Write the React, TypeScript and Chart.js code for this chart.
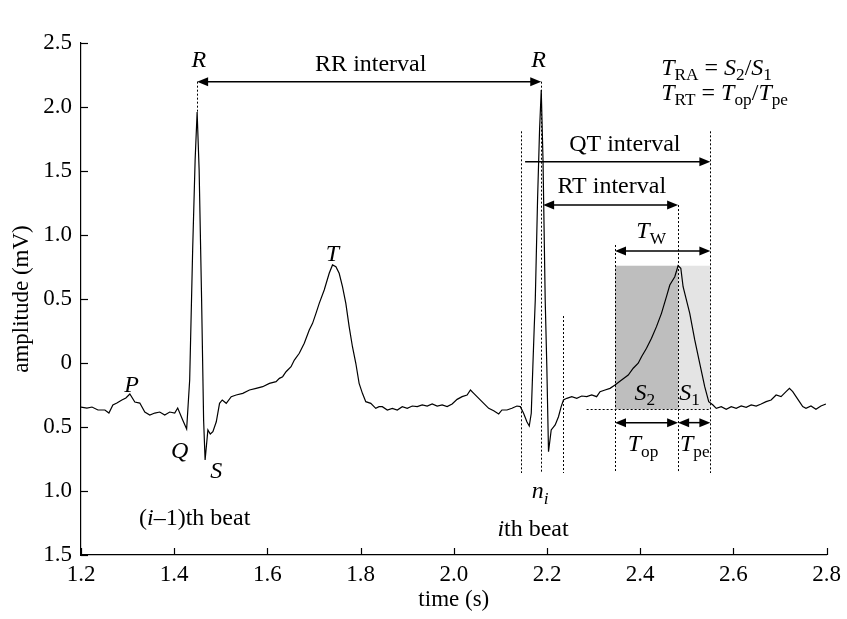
import React, { useEffect, useRef } from 'react';
import { Chart, registerables } from 'chart.js';

Chart.register(...registerables);

const SERIF = "'Liberation Serif', 'Times New Roman', serif";

// ECG trace: time (s) and amplitude (mV)
const timeS = [
  1.2, 1.2128, 1.2235, 1.2364, 1.2513, 1.2599, 1.2684, 1.277, 1.2877, 1.2963,
  1.3048, 1.3155, 1.3262, 1.3369, 1.3476, 1.3583, 1.369, 1.3797, 1.3904, 1.4011,
  1.4075, 1.4182, 1.4267, 1.4332, 1.4396, 1.4449, 1.4492, 1.4535, 1.4588, 1.4631,
  1.4663, 1.4723, 1.4774, 1.483, 1.4903, 1.4973, 1.5031, 1.5117, 1.5224, 1.533,
  1.5472, 1.5615, 1.5758, 1.5899, 1.6043, 1.6186, 1.6257, 1.6327, 1.64, 1.6507,
  1.6578, 1.6684, 1.6791, 1.6898, 1.6969, 1.7042, 1.7112, 1.7219, 1.7326, 1.7397,
  1.747, 1.754, 1.7611, 1.7683, 1.7754, 1.7825, 1.7897, 1.7968, 1.8039, 1.8111,
  1.8218, 1.8325, 1.8396, 1.8466, 1.8573, 1.868, 1.8787, 1.8894, 1.9001, 1.9108,
  1.9215, 1.9322, 1.9429, 1.9536, 1.9643, 1.975, 1.9857, 1.9964, 2.0071, 2.0178,
  2.0285, 2.0357, 2.0428, 2.0535, 2.0642, 2.0749, 2.0856, 2.0963, 2.1033, 2.114,
  2.1247, 2.1354, 2.1427, 2.1497, 2.1568, 2.1619, 2.1662, 2.1696, 2.1726, 2.1748,
  2.1797, 2.184, 2.1876, 2.1914, 2.1961, 2.1996, 2.2032, 2.209, 2.2175, 2.2246,
  2.2304, 2.2353, 2.2424, 2.2531, 2.2638, 2.2745, 2.2852, 2.2959, 2.3065, 2.3138,
  2.3245, 2.3352, 2.3459, 2.36, 2.3743, 2.385, 2.3957, 2.4028, 2.4135, 2.4242,
  2.4349, 2.4456, 2.4563, 2.4635, 2.4742, 2.4813, 2.4871, 2.492, 2.5063, 2.517,
  2.5277, 2.5384, 2.547, 2.5561, 2.5632, 2.5739, 2.5846, 2.5953, 2.606, 2.6167,
  2.6274, 2.6381, 2.6488, 2.6595, 2.6702, 2.6809, 2.6916, 2.7022, 2.7129, 2.7202,
  2.7273, 2.7344, 2.7416, 2.7487, 2.7557, 2.7664, 2.7771, 2.7878, 2.7985,
];
const amplitudeMV = [
  -0.344, -0.352, -0.344, -0.367, -0.367, -0.391, -0.328, -0.313, -0.289, -0.273,
  -0.242, -0.305, -0.313, -0.383, -0.406, -0.391, -0.383, -0.406, -0.383, -0.391,
  -0.352, -0.445, -0.516, -0.133, 0.883, 1.586, 1.961, 1.508, 0.492, -0.445,
  -0.758, -0.523, -0.555, -0.537, -0.459, -0.315, -0.289, -0.315, -0.263, -0.25,
  -0.237, -0.211, -0.198, -0.185, -0.159, -0.146, -0.12, -0.107, -0.068, -0.029,
  0.023, 0.076, 0.154, 0.258, 0.31, 0.388, 0.466, 0.57, 0.701, 0.766,
  0.752, 0.701, 0.596, 0.466, 0.284, 0.127, -0.002, -0.159, -0.237, -0.302,
  -0.315, -0.354, -0.341, -0.341, -0.367, -0.354, -0.367, -0.341, -0.354, -0.336,
  -0.341, -0.328, -0.336, -0.32, -0.336, -0.328, -0.341, -0.32, -0.284, -0.263,
  -0.25, -0.211, -0.237, -0.276, -0.315, -0.354, -0.373, -0.398, -0.367, -0.367,
  -0.354, -0.336, -0.341, -0.393, -0.459, -0.492, -0.393, -0.029, 0.284, 0.492,
  1.273, 1.82, 2.133, 1.586, 0.492, -0.029, -0.693, -0.523, -0.484, -0.42,
  -0.341, -0.289, -0.276, -0.263, -0.276, -0.258, -0.263, -0.25, -0.263, -0.224,
  -0.211, -0.198, -0.172, -0.133, -0.094, -0.041, -0.002, 0.049, 0.115, 0.193,
  0.284, 0.388, 0.518, 0.609, 0.674, 0.76, 0.74, 0.596, 0.388, 0.18,
  -0.002, -0.185, -0.302, -0.328, -0.354, -0.341, -0.362, -0.341, -0.354, -0.336,
  -0.346, -0.328, -0.336, -0.32, -0.302, -0.289, -0.25, -0.263, -0.224, -0.198,
  -0.224, -0.263, -0.302, -0.341, -0.354, -0.336, -0.362, -0.336, -0.32,
];

const xTickValues = [1.2, 1.4, 1.6, 1.8, 2.0, 2.2, 2.4, 2.6, 2.8];
const yTickValues = [-1.5, -1.0, -0.5, 0, 0.5, 1.0, 1.5, 2.0, 2.5];

// fiducial points of the beats (s / mV)
const rPeak1 = 1.4492;
const rPeak1Amp = 1.961;
const rPeak2 = 2.1876;
const qrsOnset2 = 2.144;
const qrsEnd2 = 2.2353;
const tOnset2 = 2.3459;
const tPeak2 = 2.4813;
const tEnd2 = 2.5505;
const tPeakAmp = 0.76;
const isoLevel = -0.362;

// annotation levels (mV)
const rrLevel = 2.198;
const qtLevel = 1.573;
const rtLevel = 1.234;
const twLevel = 0.875;
const tsubLevel = -0.466;
const markerTop = 1.81;
const markerBottom = -0.859;

const SHADE_DARK = '#bebebe';
const SHADE_LIGHT = '#e4e4e4';

type Seg = [string, 'i' | 'r' | 'sr' | 'si'];

function rich(ctx: CanvasRenderingContext2D, segs: Seg[], x: number, y: number, align: 'left' | 'center', size = 24) {
  const sub = size * 0.72;
  const font = (k: string) =>
    k === 'i' ? `italic ${size}px ${SERIF}` : k === 'r' ? `${size}px ${SERIF}` : k === 'si' ? `italic ${sub}px ${SERIF}` : `${sub}px ${SERIF}`;
  let w = 0;
  for (const [t, k] of segs) {
    ctx.font = font(k);
    w += ctx.measureText(t).width;
  }
  let cx = align === 'center' ? x - w / 2 : x;
  ctx.textAlign = 'left';
  ctx.textBaseline = 'alphabetic';
  const base = y + size * 0.33;
  for (const [t, k] of segs) {
    ctx.font = font(k);
    ctx.fillText(t, cx, k === 'sr' || k === 'si' ? base + size * 0.24 : base);
    cx += ctx.measureText(t).width;
  }
}

function hArrow(ctx: CanvasRenderingContext2D, x1: number, x2: number, y: number, headL: boolean, headR: boolean) {
  const hl = 11;
  const hw = 4.5;
  ctx.setLineDash([]);
  ctx.lineWidth = 1.5;
  ctx.beginPath();
  ctx.moveTo(x1 + (headL ? hl - 2 : 0), y);
  ctx.lineTo(x2 - (headR ? hl - 2 : 0), y);
  ctx.stroke();
  if (headL) {
    ctx.beginPath();
    ctx.moveTo(x1, y);
    ctx.lineTo(x1 + hl, y - hw);
    ctx.lineTo(x1 + hl, y + hw);
    ctx.closePath();
    ctx.fill();
  }
  if (headR) {
    ctx.beginPath();
    ctx.moveTo(x2, y);
    ctx.lineTo(x2 - hl, y - hw);
    ctx.lineTo(x2 - hl, y + hw);
    ctx.closePath();
    ctx.fill();
  }
}

const annotationPlugin = {
  id: 'ecgAnnotations',
  beforeDatasetsDraw(chart: any) {
    const { ctx, scales } = chart;
    const X = (v: number) => scales.x.getPixelForValue(v);
    const Y = (v: number) => scales.y.getPixelForValue(v);
    ctx.save();
    ctx.fillStyle = SHADE_DARK;
    ctx.fillRect(X(tOnset2), Y(tPeakAmp), X(tPeak2) - X(tOnset2), Y(isoLevel) - Y(tPeakAmp));
    ctx.fillStyle = SHADE_LIGHT;
    ctx.fillRect(X(tPeak2), Y(tPeakAmp), X(tEnd2) - X(tPeak2), Y(isoLevel) - Y(tPeakAmp));
    ctx.restore();
  },
  afterDatasetsDraw(chart: any) {
    const { ctx, scales } = chart;
    const X = (v: number) => scales.x.getPixelForValue(v);
    const Y = (v: number) => scales.y.getPixelForValue(v);
    ctx.save();
    ctx.strokeStyle = '#000';
    ctx.fillStyle = '#000';
    // dotted markers
    ctx.lineWidth = 1;
    ctx.setLineDash([2, 2]);
    const vline = (t: number, a: number, b: number) => {
      const px = Math.round(X(t)) + 0.5;
      ctx.beginPath();
      ctx.moveTo(px, Y(a));
      ctx.lineTo(px, Y(b));
      ctx.stroke();
    };
    vline(rPeak1, rrLevel, rPeak1Amp);
    vline(rPeak2, rrLevel, markerBottom);
    vline(qrsOnset2, markerTop, markerBottom);
    vline(qrsEnd2, 0.367, markerBottom);
    vline(tOnset2, 0.922, markerBottom);
    vline(tPeak2, rtLevel, markerBottom);
    vline(tEnd2, markerTop, markerBottom);
    ctx.beginPath();
    const iy = Math.round(Y(isoLevel)) + 0.5;
    ctx.moveTo(X(2.285), iy);
    ctx.lineTo(X(tEnd2), iy);
    ctx.stroke();

    // arrows
    hArrow(ctx, X(rPeak1), X(rPeak2), Y(rrLevel), true, true);
    hArrow(ctx, X(qrsOnset2 + 0.009), X(tEnd2), Y(qtLevel), false, true);
    hArrow(ctx, X(rPeak2 + 0.004), X(tPeak2), Y(rtLevel), true, true);
    hArrow(ctx, X(tOnset2), X(tEnd2), Y(twLevel), true, true);
    hArrow(ctx, X(tOnset2), X(tPeak2), Y(tsubLevel), true, true);
    hArrow(ctx, X(tPeak2), X(tEnd2), Y(tsubLevel), true, true);

    // texts
    const L = (segs: Seg[], t: number, v: number, align: 'left' | 'center' = 'center') => rich(ctx, segs, X(t), Y(v), align);
    L([['R', 'i']], 1.4531, 2.373);
    L([['R', 'i']], 2.1818, 2.373);
    L([['RR interval', 'r']], 1.8218, 2.341);
    L([['T', 'i'], ['RA', 'sr'], [' = ', 'r'], ['S', 'i'], ['2', 'sr'], ['/', 'r'], ['S', 'i'], ['1', 'sr']], 2.445, 2.315, 'left');
    L([['T', 'i'], ['RT', 'sr'], [' = ', 'r'], ['T', 'i'], ['op', 'sr'], ['/', 'r'], ['T', 'i'], ['pe', 'sr']], 2.445, 2.12, 'left');
    L([['QT interval', 'r']], 2.367, 1.719);
    L([['RT interval', 'r']], 2.339, 1.39);
    L([['T', 'i'], ['W', 'sr']], 2.4235, 1.039);
    L([['S', 'i'], ['2', 'sr']], 2.41, -0.224);
    L([['S', 'i'], ['1', 'sr']], 2.506, -0.224);
    L([['T', 'i'], ['op', 'sr']], 2.406, -0.625);
    L([['T', 'i'], ['pe', 'sr']], 2.517, -0.625);
    L([['n', 'i'], ['i', 'si']], 2.185, -0.992);
    L([['i', 'i'], ['th beat', 'r']], 2.17, -1.289);
    L([['(', 'r'], ['i', 'i'], ['–1)th beat', 'r']], 1.4439, -1.203);
    L([['P', 'i']], 1.3084, -0.164);
    L([['Q', 'i']], 1.4118, -0.68);
    L([['S', 'i']], 1.4903, -0.836);
    L([['T', 'i']], 1.7397, 0.862);
    ctx.restore();
  },
  afterDraw(chart: any) {
    const { ctx, scales, chartArea } = chart;
    ctx.save();
    ctx.strokeStyle = '#000';
    ctx.lineWidth = 1.2;
    ctx.setLineDash([]);
    for (const v of xTickValues) {
      const px = Math.round(scales.x.getPixelForValue(v)) + 0.5;
      ctx.beginPath();
      ctx.moveTo(px, chartArea.bottom);
      ctx.lineTo(px, chartArea.bottom - 7);
      ctx.stroke();
    }
    for (const v of yTickValues) {
      const py = Math.round(scales.y.getPixelForValue(v)) + 0.5;
      ctx.beginPath();
      ctx.moveTo(chartArea.left, py);
      ctx.lineTo(chartArea.left + 7, py);
      ctx.stroke();
    }
    ctx.restore();
  },
};

export default function App() {
  const ref = useRef<HTMLCanvasElement>(null);
  useEffect(() => {
    if (!ref.current) return;
    const chart = new Chart(ref.current, {
      type: 'line',
      data: {
        datasets: [
          {
            data: timeS.map((t, i) => ({ x: t, y: amplitudeMV[i] })),
            borderColor: '#000',
            borderWidth: 1.2,
            pointRadius: 0,
            tension: 0,
            fill: false,
          },
        ],
      },
      options: {
        responsive: false,
        animation: false,
        events: [],
        layout: { padding: { left: 0, top: 43, right: 18, bottom: 0 } },
        plugins: { legend: { display: false }, tooltip: { enabled: false } },
        scales: {
          x: {
            type: 'linear',
            min: 1.2,
            max: 2.8,
            afterBuildTicks: (s: any) => {
              s.ticks = xTickValues.map((v) => ({ value: v }));
            },
            afterFit: (s: any) => {
              s.height = 64;
            },
            grid: { display: false, drawTicks: false },
            border: { display: true, color: '#000', width: 1.2 },
            ticks: {
              autoSkip: false,
              maxRotation: 0,
              padding: 6,
              color: '#000',
              font: { family: SERIF, size: 23 },
              callback: (v: any) => Number(v).toFixed(1),
            },
            title: {
              display: true,
              text: 'time (s)',
              color: '#000',
              font: { family: SERIF, size: 23 },
              padding: { top: 0, bottom: 5 },
            },
          },
          y: {
            type: 'linear',
            min: -1.5,
            max: 2.5,
            afterBuildTicks: (s: any) => {
              s.ticks = yTickValues.map((v) => ({ value: v }));
            },
            afterFit: (s: any) => {
              s.width = 81;
            },
            grid: { display: false, drawTicks: false },
            border: { display: true, color: '#000', width: 1.2 },
            ticks: {
              autoSkip: false,
              padding: 9,
              color: '#000',
              font: { family: SERIF, size: 23 },
              callback: (v: any) => (Number(v) === 0 ? '0' : Math.abs(Number(v)).toFixed(1)),
            },
            title: {
              display: true,
              text: 'amplitude (mV)',
              color: '#000',
              font: { family: SERIF, size: 23 },
              padding: { top: 8, bottom: 0 },
            },
          },
        },
      },
      plugins: [annotationPlugin],
    } as any);
    return () => chart.destroy();
  }, []);
  return (
    <div style={{ position: 'fixed', left: 0, top: 0, width: 847, height: 619, background: '#fff' }}>
      <canvas ref={ref} width={847} height={619} style={{ display: 'block' }} />
    </div>
  );
}
